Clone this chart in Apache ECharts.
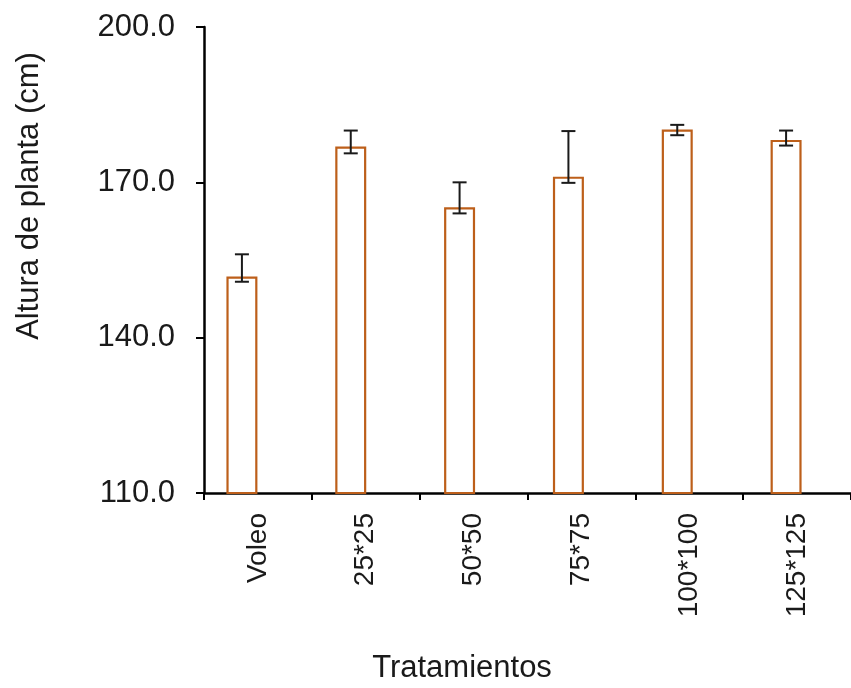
<!DOCTYPE html>
<html>
<head>
<meta charset="utf-8">
<script src="https://cdn.jsdelivr.net/npm/echarts@6/dist/echarts.min.js"></script>
<style>html,body{margin:0;padding:0;background:#fff}#c{width:851px;height:688px}</style>
</head>
<body>
<div id="c"></div>
<script>
const categories = ['Voleo', '25*25', '50*50', '75*75', '100*100', '125*125'];
const heights = [151.8, 176.9, 165.2, 171.1, 180.2, 178.2];
const errLow = [150.8, 175.6, 164.0, 169.9, 179.1, 177.1];
const errHigh = [156.1, 180.0, 170.0, 179.9, 181.1, 180.0];
const yTicks = [110, 140, 170, 200];

const FONT = '"Liberation Sans", Arial, sans-serif';
const chart = echarts.init(document.getElementById('c'), null, {renderer: 'canvas'});

const gridTop = 27, gridBottom = 195, gridW = 653;
const yMin = yTicks[0], yMax = yTicks[yTicks.length - 1], yInt = yTicks[1] - yTicks[0];

chart.setOption({
  animation: false,
  backgroundColor: '#fff',
  grid: [
    {left: 204, top: gridTop, bottom: gridBottom, width: gridW},
    {left: 187.5, top: gridTop, bottom: gridBottom, width: gridW}
  ],
  xAxis: [
    {
      type: 'category', gridIndex: 0, data: categories,
      axisLine: {lineStyle: {color: '#000', width: 2.5}},
      axisTick: {show: true, length: 7, lineStyle: {color: '#000', width: 2}},
      axisLabel: {rotate: 90, fontFamily: FONT, fontSize: 28, color: '#1a1a1a', margin: 20}
    },
    {
      type: 'category', gridIndex: 1, data: categories, show: false
    }
  ],
  yAxis: [
    {
      type: 'value', gridIndex: 0, min: yMin, max: yMax, interval: yInt,
      axisLine: {show: true, lineStyle: {color: '#000', width: 2.5}},
      axisTick: {show: true, length: 8, lineStyle: {color: '#000', width: 2}},
      splitLine: {show: false},
      axisLabel: {fontFamily: FONT, fontSize: 31, color: '#1a1a1a', margin: 29,
        formatter: v => v.toFixed(1)}
    },
    {
      type: 'value', gridIndex: 1, min: yMin, max: yMax, interval: yInt, show: false,
      splitLine: {show: false}
    }
  ],
  graphic: [
    {
      type: 'text', x: 462, y: 668,
      style: {text: 'Tratamientos', fontFamily: FONT, fontSize: 31, fill: '#1a1a1a',
        textAlign: 'center', textVerticalAlign: 'middle'}
    },
    {
      type: 'text', x: 29, y: 196, rotation: Math.PI / 2,
      style: {text: 'Altura de planta (cm)', fontFamily: FONT, fontSize: 31, fill: '#1a1a1a',
        textAlign: 'center', textVerticalAlign: 'middle'}
    }
  ],
  series: [
    {
      type: 'bar', xAxisIndex: 1, yAxisIndex: 1, data: heights, barWidth: 31,
      itemStyle: {color: '#ffffff', borderColor: '#bd5f1a', borderWidth: 2.2},
      z: 2
    },
    {
      type: 'custom', xAxisIndex: 1, yAxisIndex: 1, z: 5,
      data: categories.map((c, i) => [i, errLow[i], errHigh[i]]),
      renderItem: function (params, api) {
        const x = api.value(0);
        const lo = api.coord([x, api.value(1)]);
        const hi = api.coord([x, api.value(2)]);
        const hw = 7;
        const st = {stroke: '#1a1a1a', lineWidth: 2};
        return {
          type: 'group',
          children: [
            {type: 'line', shape: {x1: hi[0], y1: hi[1], x2: lo[0], y2: lo[1]}, style: st},
            {type: 'line', shape: {x1: hi[0] - hw, y1: hi[1], x2: hi[0] + hw, y2: hi[1]}, style: st},
            {type: 'line', shape: {x1: lo[0] - hw, y1: lo[1], x2: lo[0] + hw, y2: lo[1]}, style: st}
          ]
        };
      }
    }
  ]
});
</script>
</body>
</html>
